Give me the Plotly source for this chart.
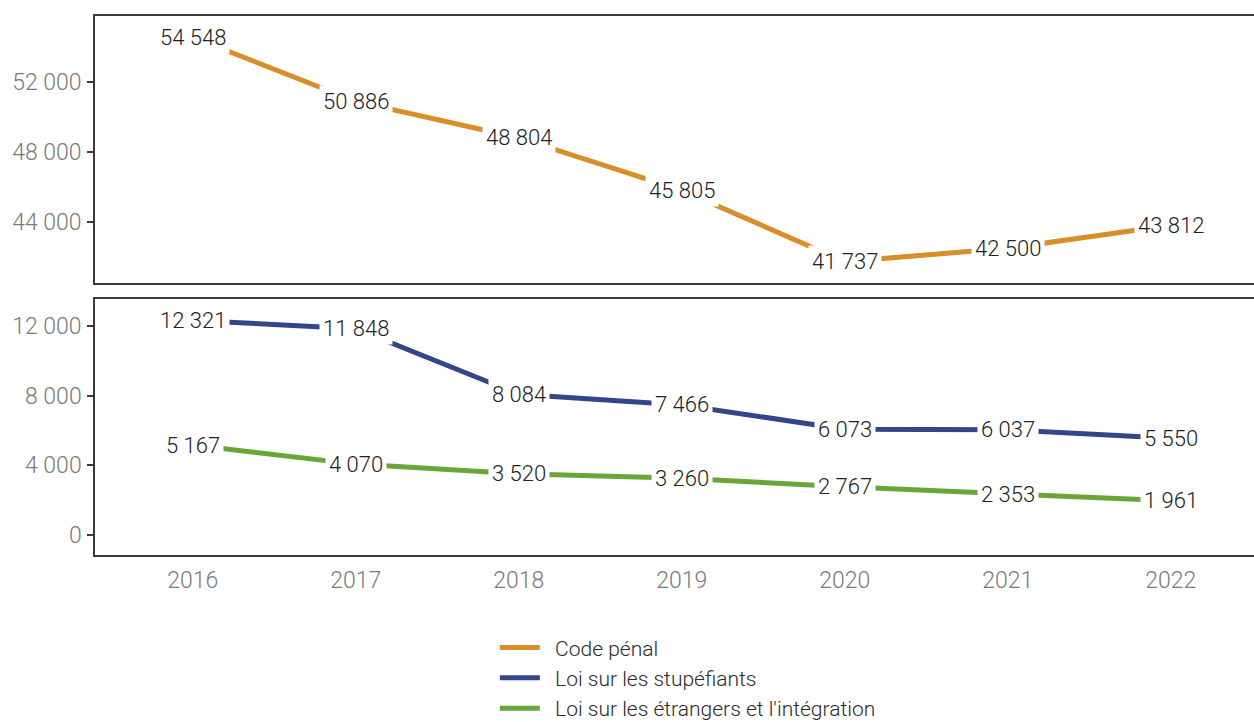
import plotly.graph_objects as go

# Yearly figures per law
years = [2016, 2017, 2018, 2019, 2020, 2021, 2022]
code_penal = [54548, 50886, 48804, 45805, 41737, 42500, 43812]
stupefiants = [12321, 11848, 8084, 7466, 6073, 6037, 5550]
etrangers = [5167, 4070, 3520, 3260, 2767, 2353, 1961]

top_ticks = [44000, 48000, 52000]
bottom_ticks = [0, 4000, 8000, 12000]

series = [
    ("Code pénal", code_penal, "#D98F29", "y"),
    ("Loi sur les stupéfiants", stupefiants, "#34468A", "y2"),
    ("Loi sur les étrangers et l'intégration", etrangers, "#6AA537", "y2"),
]

FONT = "Roboto"
AXIS_COLOR = "#3a3a3a"
TICK_FONT = dict(family=FONT, size=23, color="#7a7a7a", weight=300)
GAP = "\u00a0\u00a0"  # spacing between legend key and its text


def fmt(v):
    return f"{v:,}".replace(",", " ")


fig = go.Figure()
annotations = []
for name, values, color, yax in series:
    xax = "x" if yax == "y" else "x2"
    fig.add_trace(go.Scatter(
        x=years, y=values, name=GAP + name, mode="lines",
        line=dict(color=color, width=5),
        xaxis=xax, yaxis=yax,
    ))
    for xv, yv in zip(years, values):
        annotations.append(dict(
            x=xv, y=yv, xref=xax, yref=yax, text=fmt(yv),
            showarrow=False, bgcolor="white", borderpad=3,
            font=dict(family=FONT, size=22, color="#222222", weight=300),
        ))

xrange = [2015.4, 2022.51]
common_x = dict(range=xrange, showline=True, mirror=True, linecolor=AXIS_COLOR,
                linewidth=1.5, showgrid=False, zeroline=False, tickvals=years)
common_y = dict(showline=True, linecolor=AXIS_COLOR, linewidth=1.5, showgrid=False,
                zeroline=False, ticks="outside", ticklen=6, tickwidth=1.5,
                tickcolor=AXIS_COLOR, tickfont=TICK_FONT, ticklabelstandoff=1)

fig.update_layout(
    width=1254, height=722,
    margin=dict(l=95, r=0, t=0, b=0, autoexpand=False),
    paper_bgcolor="white", plot_bgcolor="white",
    font=dict(family=FONT),
    xaxis=dict(**common_x, anchor="y", showticklabels=False, ticks=""),
    yaxis=dict(**common_y, domain=[0.608, 0.978], range=[40514, 55771],
               tickvals=top_ticks, ticktext=[fmt(t) for t in top_ticks],
               anchor="x"),
    xaxis2=dict(**common_x, anchor="y2", ticks="", tickfont=TICK_FONT,
                ticklabelstandoff=4),
    yaxis2=dict(**common_y, domain=[0.2313, 0.5859], range=[-1148, 13550],
                tickvals=bottom_ticks, ticktext=[fmt(t) for t in bottom_ticks],
                anchor="x2"),
    legend=dict(
        x=0.345, y=0.131, xanchor="left", yanchor="top",
        orientation="v",
        font=dict(family=FONT, size=21, color="#2b2b2b", weight=300),
        tracegroupgap=0, itemwidth=40,
    ),
    showlegend=True,
    annotations=annotations,
)

fig.write_html("out.html")
